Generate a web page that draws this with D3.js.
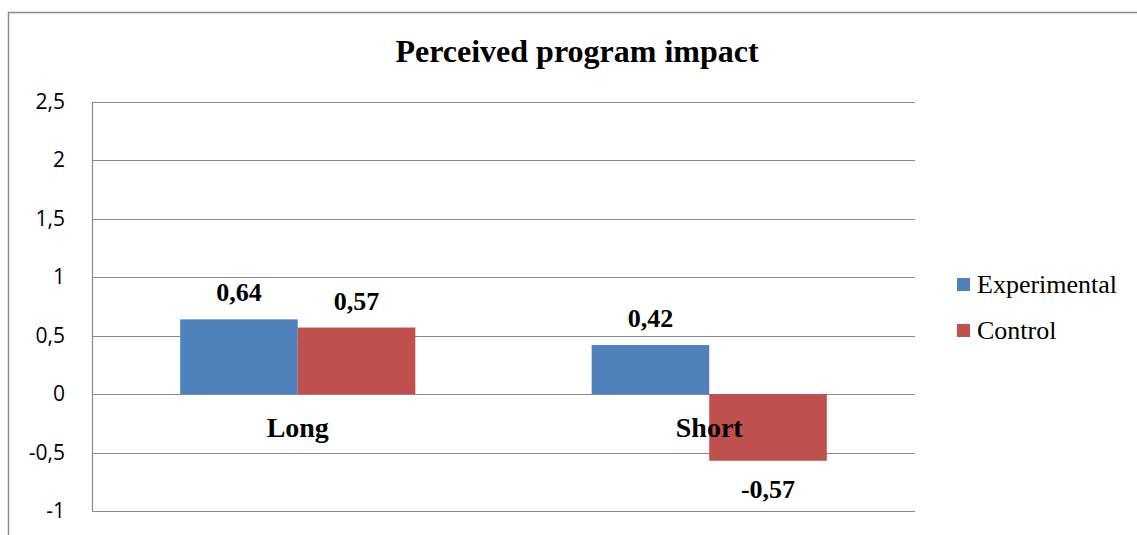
<!doctype html>
<html>
<head>
<meta charset="utf-8">
<title>Perceived program impact</title>
<style>
  body { margin: 0; background: #fff; }
  svg text { fill: #000; }
</style>
</head>
<body>
<div id="chart"></div>
<script src="https://d3js.org/d3.v7.min.js"></script>
<script>
// data
var categories = ["Long", "Short"];
var seriesNames = ["Experimental", "Control"];
var experimental = [0.64, 0.42];
var control = [0.57, -0.57];
var valueLabels = [["0,64", "0,42"], ["0,57", "-0,57"]];
var yTicks = [-1, -0.5, 0, 0.5, 1, 1.5, 2, 2.5];
var colors = ["#4F81BD", "#C0504D"];

var W = 1137, H = 535;
var plot = { left: 92, right: 915, top: 102, bottom: 511 };
var serif = "'Liberation Serif', 'Times New Roman', serif";

var svg = d3.select("#chart").append("svg")
    .attr("width", W).attr("height", H);

// chart area border (cropped on right and bottom)
svg.append("path")
    .attr("d", "M8.5," + (H + 2) + "V12.5H" + (W + 2))
    .attr("fill", "none").attr("stroke", "#8c8c8c").attr("stroke-width", 1.5);

var y = d3.scaleLinear().domain([-1, 2.5]).range([plot.bottom, plot.top]);
var x0 = d3.scaleBand().domain(categories).range([plot.left, plot.right]);
// gap width 75% -> group takes 1/1.75 of the band
var groupW = x0.bandwidth() / 1.75;
var x1 = d3.scaleBand().domain(seriesNames).range([0, groupW]);

function barX(cat, s) {
    return x0(cat) + (x0.bandwidth() - groupW) / 2 + x1(s);
}

// gridlines
svg.append("g").selectAll("line").data(yTicks).enter().append("line")
    .attr("x1", plot.left).attr("x2", plot.right)
    .attr("y1", function(d) { return Math.round(y(d)) + 0.5; })
    .attr("y2", function(d) { return Math.round(y(d)) + 0.5; })
    .attr("stroke", "#8a8a8a").attr("stroke-width", 1.2);

// y axis line
svg.append("line")
    .attr("x1", plot.left + 0.5).attr("x2", plot.left + 0.5)
    .attr("y1", plot.top).attr("y2", plot.bottom + 0.5)
    .attr("stroke", "#8a8a8a").attr("stroke-width", 1.2);

// y tick labels
svg.append("g").selectAll("text").data(yTicks).enter().append("text")
    .attr("x", 65).attr("y", function(d) { return y(d) + 7; })
    .attr("text-anchor", "end")
    .style("font-family", "'Open Sans', 'Noto Sans', sans-serif")
    .style("font-size", "21px")
    .text(function(d) { return String(d).replace(".", ","); });

// bars
var series = [experimental, control];
series.forEach(function(vals, i) {
    svg.append("g").attr("fill", colors[i])
        .selectAll("rect").data(vals).enter().append("rect")
        .attr("x", function(d, j) { return barX(categories[j], seriesNames[i]); })
        .attr("width", x1.bandwidth())
        .attr("y", function(d) { return y(Math.max(0, d)); })
        .attr("height", function(d) { return Math.abs(y(d) - y(0)); });
});

// category labels (next to axis at 0)
svg.append("g").selectAll("text").data(categories).enter().append("text")
    .attr("x", function(d) { return x0(d) + x0.bandwidth() / 2; })
    .attr("y", y(0) + 43)
    .attr("text-anchor", "middle")
    .style("font-family", serif)
    .style("font-weight", "bold")
    .style("font-size", "28px")
    .text(function(d) { return d; });

// value labels
series.forEach(function(vals, i) {
    svg.append("g").selectAll("text").data(vals).enter().append("text")
        .attr("x", function(d, j) { return barX(categories[j], seriesNames[i]) + x1.bandwidth() / 2; })
        .attr("y", function(d) { return d >= 0 ? y(d) - 18 : y(d) + 37; })
        .attr("text-anchor", "middle")
        .style("font-family", serif)
        .style("font-weight", "bold")
        .style("font-size", "26px")
        .text(function(d, j) { return valueLabels[i][j]; });
});

// title
svg.append("text")
    .attr("x", 577).attr("y", 62)
    .attr("text-anchor", "middle")
    .style("font-family", serif)
    .style("font-weight", "bold")
    .style("font-size", "32px")
    .text("Perceived program impact");

// legend
var legend = svg.append("g").selectAll("g").data(seriesNames).enter().append("g")
    .attr("transform", function(d, i) { return "translate(957," + (278 + i * 46) + ")"; });
legend.append("rect")
    .attr("width", 13).attr("height", 13)
    .attr("fill", function(d, i) { return colors[i]; });
legend.append("text")
    .attr("x", 20).attr("y", 15)
    .style("font-family", serif)
    .style("font-size", "26px")
    .text(function(d) { return d; });
</script>
</body>
</html>
